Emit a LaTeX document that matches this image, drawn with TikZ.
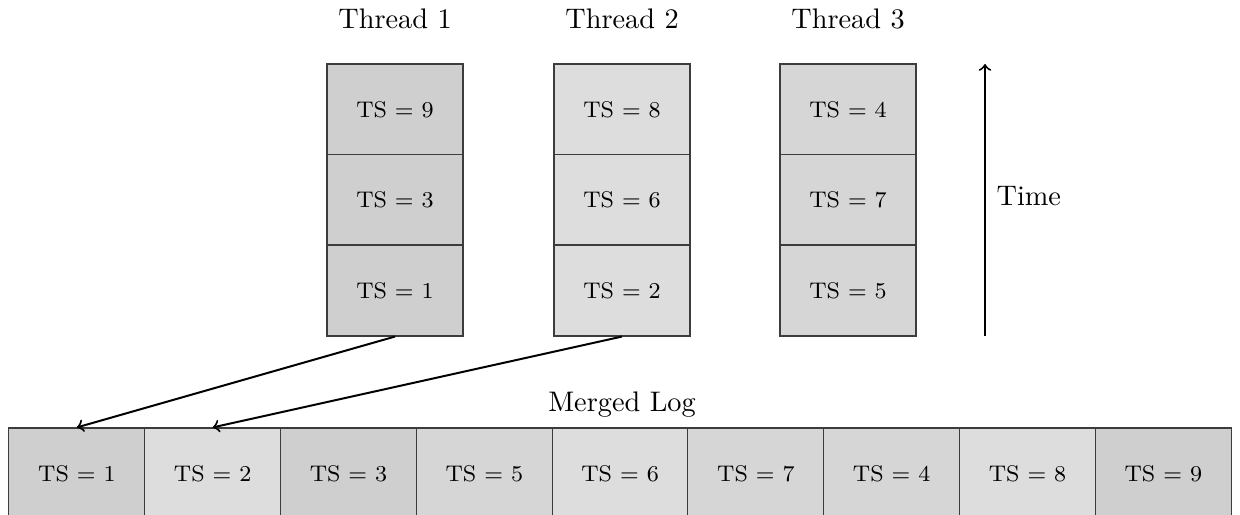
\documentclass[tikz,border=0pt]{standalone}
\definecolor{cA}{RGB}{207,207,207}
\definecolor{cB}{RGB}{221,221,221}
\definecolor{cC}{RGB}{214,214,214}
\definecolor{edge}{RGB}{60,60,60}
\begin{document}
\begin{tikzpicture}[x=0.3533pt,y=-0.3533pt,
  cell/.style={draw=edge,line width=0.4pt,minimum width=136*0.3533pt,minimum height=91*0.3533pt,inner sep=0pt,font=\footnotesize},
  ta/.style={cell,fill=cA},
  tb/.style={cell,fill=cB},
  tc/.style={cell,fill=cC},
  title/.style={anchor=base,inner sep=0pt},
  conn/.style={->,line width=0.7pt}]
\useasboundingbox (0,0) rectangle (1240,515);
% threads
\node[ta] (a3) at (395,109.5) {TS $=$ 9};
\node[ta] (a2) at (395,200) {TS $=$ 3};
\node[ta] (a1) at (395,290.5) {TS $=$ 1};
\node[tb] (b3) at (622,109.5) {TS $=$ 8};
\node[tb] (b2) at (622,200) {TS $=$ 6};
\node[tb] (b1) at (622,290.5) {TS $=$ 2};
\node[tc] (c3) at (848,109.5) {TS $=$ 4};
\node[tc] (c2) at (848,200) {TS $=$ 7};
\node[tc] (c1) at (848,290.5) {TS $=$ 5};
\node[title] (l1) at (395,29) {Thread 1};
\node[title] (l2) at (622,29) {Thread 2};
\node[title] (l3) at (848,29) {Thread 3};
% time axis
\coordinate (tbot) at (985,336);
\coordinate (ttop) at (985,64);
\draw[conn] (tbot) -- (ttop);
\node[anchor=base west,inner sep=0pt] (time) at (996,206) {Time};
% merged log
\node[title] (ml) at (622,412) {Merged Log};
\foreach \s/\v [count=\i from 0] in {ta/1,tb/2,ta/3,tc/5,tb/6,tc/7,tc/4,tb/8,ta/9}{
  \node[\s] (m\i) at ({76.9+135.8*\i},473.5) {TS $=$ \v};
}
\draw[conn] (a1.south) -- (m0.north);
\draw[conn] (b1.south) -- (m1.north);
\end{tikzpicture}
\end{document}
